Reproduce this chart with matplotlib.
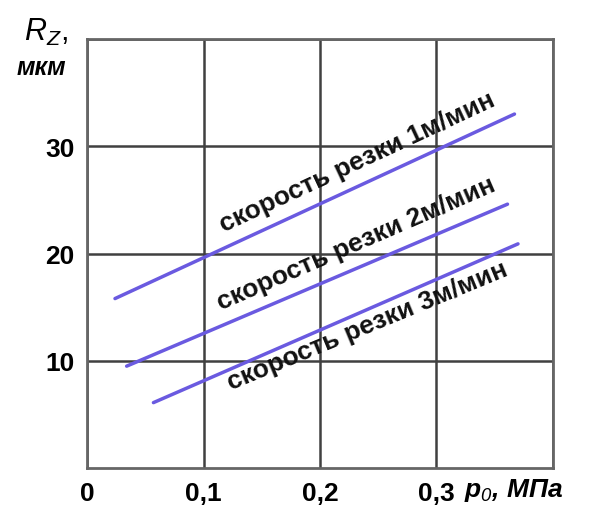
import matplotlib
matplotlib.use("Agg")
from matplotlib import pyplot as plt

# p0 in MPa, Rz in um
p0_v1 = [0.024, 0.367]
rz_v1 = [15.8, 33.0]
p0_v2 = [0.034, 0.361]
rz_v2 = [9.5, 24.6]
p0_v3 = [0.057, 0.370]
rz_v3 = [6.1, 20.9]

labels = ["скорость резки 1м/мин", "скорость резки 2м/мин", "скорость резки 3м/мин"]
label_pos = [(0.232, 28.6), (0.231, 21.0), (0.241, 13.3)]
label_rot = [25, 23.5, 22.5]

xticks = [0, 0.1, 0.2, 0.3]
xticklabels = ["0", "0,1", "0,2", "0,3"]
yticks = [10, 20, 30]

plt.rcParams["font.family"] = ["Liberation Sans", "DejaVu Sans"]
plt.rcParams["mathtext.fontset"] = "custom"
plt.rcParams["mathtext.rm"] = "Liberation Sans:italic"
plt.rcParams["mathtext.it"] = "Liberation Sans:italic:bold"

fig = plt.figure(figsize=(6.13, 5.06), dpi=100)
ax = fig.add_axes([0.142, 0.073, 0.760, 0.848])

line_color = "#6a5ae0"
for xs, ys in [(p0_v1, rz_v1), (p0_v2, rz_v2), (p0_v3, rz_v3)]:
    ax.plot(xs, ys, color=line_color, linewidth=2.5, solid_capstyle="round", zorder=3)

for text, (x, y), rot in zip(labels, label_pos, label_rot):
    ax.text(x, y, text, rotation=rot, ha="center", va="center", fontsize=19,
            fontweight="bold", color="#111111", rotation_mode="anchor", zorder=4)

ax.set_xlim(0, 0.4)
ax.set_ylim(0, 40)
ax.set_xticks([0, 0.1, 0.2, 0.3, 0.4])
ax.set_xticklabels(xticklabels + [""])
ax.set_yticks(yticks + [40])
ax.set_yticklabels([str(v) for v in yticks] + [""])
ax.grid(True, color="#404040", linewidth=1.8)
ax.set_axisbelow(True)
ax.tick_params(length=0, labelsize=19, pad=9)
for lab in ax.get_xticklabels() + ax.get_yticklabels():
    lab.set_fontweight("bold")
for s in ax.spines.values():
    s.set_color("#666666")
    s.set_linewidth(2)

fig.text(0.075, 0.935, r"$\mathrm{R_Z}$,", fontsize=22, ha="center", va="center")
fig.text(0.068, 0.866, "мкм", fontsize=18, fontweight="bold", style="italic",
         ha="center", va="center")
fig.text(0.838, 0.031, r"$p_0$, МПа", fontsize=19, style="italic", fontweight="bold",
         ha="center", va="center")

plt.savefig("out.png", dpi=100)
